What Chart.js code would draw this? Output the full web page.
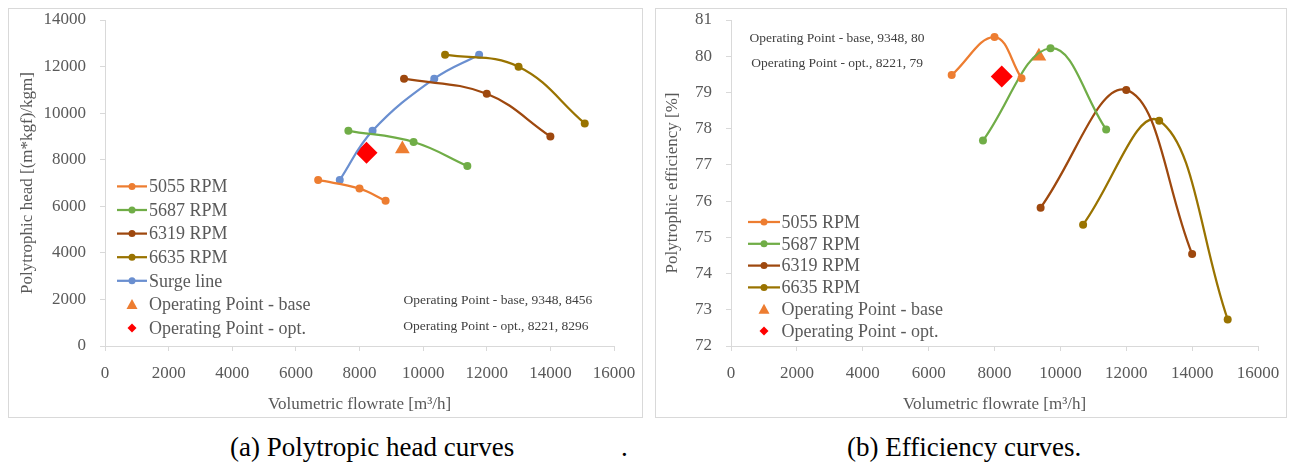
<!DOCTYPE html>
<html>
<head>
<meta charset="utf-8">
<script src="https://cdn.jsdelivr.net/npm/chart.js@4.4.1/dist/chart.umd.min.js"></script>
<style>
body { margin: 0; background: #fff; width: 1289px; height: 465px; position: relative; overflow: hidden; font-family: "Liberation Serif", serif; }
.frame { position: absolute; border: 1px solid #d9d9d9; box-sizing: border-box; }
#f1 { left: 8px; top: 8px; width: 635px; height: 410px; }
#f2 { left: 655px; top: 8px; width: 632px; height: 410px; }
.frame canvas { position: absolute; left: 0; top: 0; }
.cap { position: absolute; top: 434px; font-size: 27px; line-height: 1; color: #000; white-space: pre; }
</style>
</head>
<body>
<div class="frame" id="f1"><canvas id="head_chart" width="633" height="408"></canvas></div>
<div class="frame" id="f2"><canvas id="eff_chart" width="630" height="408"></canvas></div>
<div class="cap" style="left:230px">(a) Polytropic head curves</div>
<div class="cap" style="left:621px">.</div>
<div class="cap" style="left:847px">(b) Efficiency curves.</div>
<script>
"use strict";

// values
var flow5055 = [6700, 8000, 8820];
var head5055 = [7130, 6760, 6240];
var eff5055 = [79.48, 80.53, 79.39];
var flow5687 = [7650, 9700, 11390];
var head5687 = [9240, 8760, 7730];
var eff5687 = [77.67, 80.22, 77.98];
var flow6319 = [9400, 12000, 14000];
var head6319 = [11480, 10830, 9000];
var eff6319 = [75.82, 79.07, 74.54];
var flow6635 = [10690, 13000, 15080];
var head6635 = [12510, 11990, 9560];
var eff6635 = [75.35, 78.22, 72.73];
var surgeFlow = [7380, 8410, 10350, 11760];
var surgeHead = [7130, 9240, 11480, 12510];
// operating points: [base, opt.]
var opFlow = [9348, 8221];
var opHead = [8456, 8296];
var opEff = [80, 79.44];

var speedLabels = ["5055 RPM", "5687 RPM", "6319 RPM", "6635 RPM"];
var speedColors = ['#ED7D31', '#70AD47', '#9E480E', '#997300'];
var surgeColor = '#6A8FD0';
var grey = '#d9d9d9';
var textGrey = '#595959';
var serif = '"Liberation Serif", serif';

function pts(xs, ys) {
    return xs.map(function (x, i) { return {x: x, y: ys[i]}; });
}

function curve(label, color, xs, ys) {
    return {
        label: label, data: pts(xs, ys), showLine: true, tension: 0.4,
        borderColor: color, backgroundColor: color, borderWidth: 2.25,
        pointRadius: 4, pointBorderWidth: 0, legendKind: 'line'
    };
}

function marker(label, color, style, radius, x, y) {
    return {
        label: label, data: [{x: x, y: y}], showLine: false,
        pointStyle: style, pointRadius: radius, pointBorderWidth: 0,
        borderColor: color, backgroundColor: color, legendKind: style
    };
}

// legend glyphs: line with a dot, triangle, diamond
function glyph(ctx, kind, color, x0, x1, y) {
    var mid = (x0 + x1) / 2;
    ctx.fillStyle = color;
    ctx.strokeStyle = color;
    ctx.beginPath();
    if (kind === 'line') {
        ctx.lineWidth = 2.25;
        ctx.moveTo(x0, y); ctx.lineTo(x1, y); ctx.stroke();
        ctx.beginPath(); ctx.arc(mid, y, 3.5, 0, Math.PI * 2);
    } else if (kind === 'triangle') {
        ctx.moveTo(mid, y - 5.5); ctx.lineTo(mid + 5.5, y + 4.5); ctx.lineTo(mid - 5.5, y + 4.5);
    } else {
        ctx.moveTo(mid, y - 4.5); ctx.lineTo(mid + 4.5, y); ctx.lineTo(mid, y + 4.5); ctx.lineTo(mid - 4.5, y);
    }
    ctx.closePath();
    ctx.fill();
}

var keyPlugin = {
    id: 'key',
    afterDraw: function (chart, args, o) {
        var ctx = chart.ctx, area = chart.chartArea, sets = chart.data.datasets;
        var y0 = area.bottom - o.bottom - (sets.length - 1) * o.step;
        var x = area.left + o.left;
        ctx.save();
        ctx.font = '18px ' + serif;
        ctx.textBaseline = 'middle';
        ctx.textAlign = 'left';
        sets.forEach(function (ds, i) {
            var y = y0 + i * o.step;
            glyph(ctx, ds.legendKind, ds.backgroundColor, x, x + o.lineW, y);
            ctx.fillStyle = textGrey;
            ctx.fillText(ds.label, x + o.lineW + o.gap, y + 1);
        });
        ctx.restore();
    }
};

var notesPlugin = {
    id: 'notes',
    afterDatasetsDraw: function (chart, args, opts) {
        var ctx = chart.ctx, xs = chart.scales.x, ys = chart.scales.y;
        ctx.save();
        ctx.font = '13.5px ' + serif;
        ctx.fillStyle = '#404040';
        ctx.textAlign = 'center';
        ctx.textBaseline = 'middle';
        opts.items.forEach(function (n) {
            ctx.fillText(n.text, xs.getPixelForValue(n.x), ys.getPixelForValue(n.y));
        });
        ctx.restore();
    }
};

function makeChart(id, datasets, o) {
    return new Chart(document.getElementById(id), {
        type: 'scatter',
        data: {datasets: datasets},
        plugins: [notesPlugin, keyPlugin],
        options: {
            responsive: false, animation: false, events: [],
            layout: {padding: {left: 0, top: 11, right: 28, bottom: 0}},
            scales: {
                x: {
                    min: 0, max: 16000,
                    afterFit: function (s) { s.height = 71; s.paddingLeft = 0; s.paddingRight = 0; },
                    grid: {drawOnChartArea: false, color: grey, tickLength: 5},
                    border: {color: grey},
                    ticks: {stepSize: 2000, padding: 12, color: textGrey, font: {family: serif, size: 17}, maxRotation: 0,
                        callback: function (v) { return String(v); }},
                    title: {display: true, text: 'Volumetric flowrate [m³/h]', color: textGrey, font: {family: serif, size: 17}, padding: {bottom: 2}}
                },
                y: {
                    min: o.ymin, max: o.ymax,
                    afterFit: function (s) { s.width = o.yWidth; s.paddingTop = 0; s.paddingBottom = 0; },
                    grid: {drawOnChartArea: false, color: grey, tickLength: 5},
                    border: {color: grey},
                    ticks: {stepSize: o.ystep, padding: 14, color: textGrey, font: {family: serif, size: 17},
                        callback: function (v) { return String(v); }},
                    title: {display: true, text: o.ytitle, color: textGrey, font: {family: serif, size: 17}, padding: {top: o.ytitlePad}}
                }
            },
            plugins: {
                tooltip: {enabled: false},
                legend: {display: false},
                notes: {items: o.notes},
                key: o.key
            }
        }
    });
}

var headSets = [
    curve(speedLabels[0], speedColors[0], flow5055, head5055),
    curve(speedLabels[1], speedColors[1], flow5687, head5687),
    curve(speedLabels[2], speedColors[2], flow6319, head6319),
    curve(speedLabels[3], speedColors[3], flow6635, head6635),
    curve("Surge line", surgeColor, surgeFlow, surgeHead),
    marker("Operating Point - base", '#ED7D31', 'triangle', 8.5, opFlow[0], opHead[0]),
    marker("Operating Point - opt.", '#FF0000', 'rectRot', 11, opFlow[1], opHead[1])
];

var effSets = [
    curve(speedLabels[0], speedColors[0], flow5055, eff5055),
    curve(speedLabels[1], speedColors[1], flow5687, eff5687),
    curve(speedLabels[2], speedColors[2], flow6319, eff6319),
    curve(speedLabels[3], speedColors[3], flow6635, eff6635),
    marker("Operating Point - base", '#ED7D31', 'triangle', 8.5, opFlow[0], opEff[0]),
    marker("Operating Point - opt.", '#FF0000', 'rectRot', 11, opFlow[1], opEff[1])
];

makeChart('head_chart', headSets, {
    ymin: 0, ymax: 14000, ystep: 2000, yWidth: 96, ytitlePad: 8.5,
    ytitle: 'Polytrophic head [(m*kgf)/kgm]',
    key: {left: 12, lineW: 30, gap: 2, bottom: 18, step: 23.6},
    notes: [
        {x: 12350, y: 1975, text: 'Operating Point - base, ' + opFlow[0] + ', ' + opHead[0]},
        {x: 12290, y: 860, text: 'Operating Point - opt., ' + opFlow[1] + ', ' + opHead[1]}
    ]
});

makeChart('eff_chart', effSets, {
    ymin: 72, ymax: 81, ystep: 1, yWidth: 75, ytitlePad: 6.5,
    ytitle: 'Polytrophic efficiency [%]',
    key: {left: 17, lineW: 32, gap: 1.5, bottom: 15, step: 21.8},
    notes: [
        {x: 3220, y: 80.48, text: 'Operating Point - base, ' + opFlow[0] + ', ' + Math.round(opEff[0])},
        {x: 3220, y: 79.81, text: 'Operating Point - opt., ' + opFlow[1] + ', ' + Math.round(opEff[1])}
    ]
});
</script>
</body>
</html>
